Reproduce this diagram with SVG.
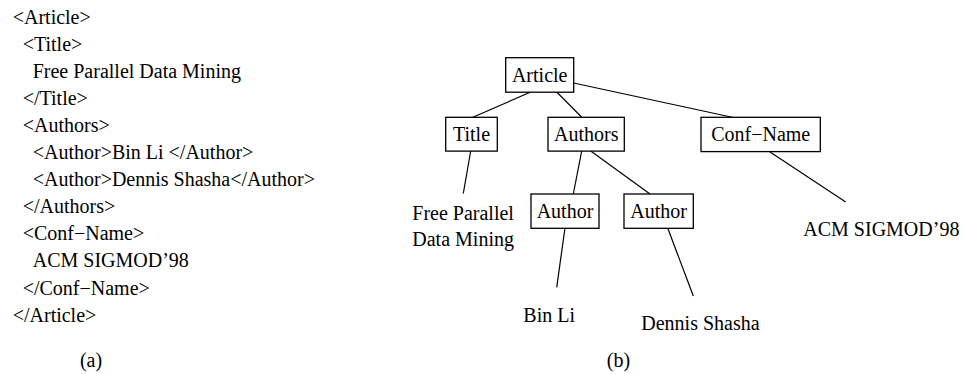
<svg xmlns="http://www.w3.org/2000/svg" width="964" height="374" viewBox="0 0 964 374">
  <style>
    text { font-family: "Liberation Serif", "Times New Roman", serif; font-size: 20px; fill: #000; }
    .box { fill: #fff; stroke: #000; stroke-width: 1.3; }
    .edge { stroke: #000; stroke-width: 1.2; fill: none; }
    .mid { text-anchor: middle; }
  </style>
  <rect width="964" height="374" fill="#fff"/>

  <!-- (a) XML source listing -->
  <g id="xml-listing">
    <text x="12.7" y="23.5">&lt;Article&gt;</text>
    <text x="22.7" y="50.6">&lt;Title&gt;</text>
    <text x="32.7" y="77.7">Free Parallel Data Mining</text>
    <text x="22.7" y="104.8">&lt;/Title&gt;</text>
    <text x="22.7" y="131.9">&lt;Authors&gt;</text>
    <text x="32.7" y="159">&lt;Author&gt;Bin Li &lt;/Author&gt;</text>
    <text x="32.7" y="186.1">&lt;Author&gt;Dennis Shasha&lt;/Author&gt;</text>
    <text x="22.7" y="213.2">&lt;/Authors&gt;</text>
    <text x="22.7" y="240.3">&lt;Conf−Name&gt;</text>
    <text x="32.7" y="267.4">ACM SIGMOD’98</text>
    <text x="22.7" y="294.5">&lt;/Conf−Name&gt;</text>
    <text x="12.7" y="321.6">&lt;/Article&gt;</text>
    <text x="91" y="367" class="mid">(a)</text>
  </g>

  <!-- (b) tree edges -->
  <g id="connectors">
    <line class="edge" x1="530.7" y1="92" x2="472.3" y2="117.5"/>
    <line class="edge" x1="556.7" y1="92" x2="582" y2="117.5"/>
    <line class="edge" x1="573.7" y1="83" x2="733.3" y2="117.5"/>
    <line class="edge" x1="470.7" y1="151" x2="463.3" y2="193.5"/>
    <line class="edge" x1="581.7" y1="151" x2="573.3" y2="194"/>
    <line class="edge" x1="590.7" y1="151" x2="650" y2="194"/>
    <line class="edge" x1="565" y1="228" x2="556.7" y2="287.3"/>
    <line class="edge" x1="667.7" y1="228" x2="693.3" y2="296"/>
    <line class="edge" x1="769.3" y1="151.5" x2="845.7" y2="202"/>
  </g>

  <!-- (b) tree nodes -->
  <g id="node-article">
    <rect class="box" x="505.7" y="57.7" width="68" height="34.5"/>
    <text x="539.7" y="81.5" class="mid">Article</text>
  </g>
  <g id="node-title">
    <rect class="box" x="445.7" y="117.3" width="51.6" height="33.8"/>
    <text x="471.5" y="141" class="mid">Title</text>
  </g>
  <g id="node-authors">
    <rect class="box" x="548" y="117.3" width="76.3" height="33.8"/>
    <text x="586.2" y="141" class="mid">Authors</text>
  </g>
  <g id="node-confname">
    <rect class="box" x="701" y="117.3" width="119.3" height="34.3"/>
    <text x="760.7" y="141" class="mid">Conf−Name</text>
  </g>
  <g id="node-author1">
    <rect class="box" x="531" y="194" width="68" height="34.3"/>
    <text x="565" y="218" class="mid">Author</text>
  </g>
  <g id="node-author2">
    <rect class="box" x="624" y="194" width="69.3" height="34.3"/>
    <text x="658.7" y="218" class="mid">Author</text>
  </g>
  <g id="leaf-title">
    <text x="412.3" y="220">Free Parallel</text>
    <text x="412.3" y="246">Data Mining</text>
  </g>
  <g id="leaf-author1">
    <text x="523.3" y="321.5">Bin Li</text>
  </g>
  <g id="leaf-author2">
    <text x="641.3" y="329.5">Dennis Shasha</text>
  </g>
  <g id="leaf-confname">
    <text x="803.3" y="236">ACM SIGMOD’98</text>
  </g>
  <text x="618.5" y="367" class="mid">(b)</text>
</svg>
